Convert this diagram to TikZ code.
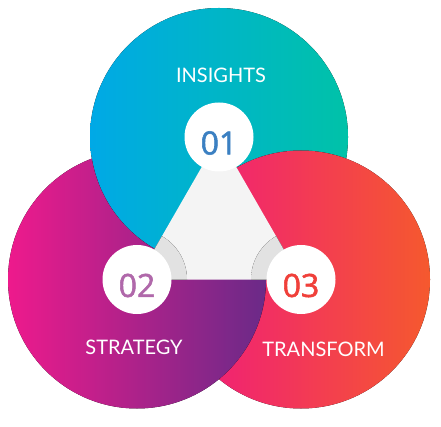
\documentclass[tikz,border=0pt]{standalone}
\usepackage{fontspec}
\setmainfont{Lato}
\newfontfamily\numfont[FakeBold=1.8]{Open Sans}
\usetikzlibrary{calc}
\definecolor{tealL}{HTML}{00A9E6}
\definecolor{tealR}{HTML}{00C2A8}
\definecolor{purL}{HTML}{EE1A8C}
\definecolor{purR}{HTML}{6A2A88}
\definecolor{redL}{HTML}{F0187F}
\definecolor{redR}{HTML}{F5592E}
\definecolor{tri}{HTML}{F4F4F4}
\definecolor{shadowc}{HTML}{E2E2E2}
\definecolor{shadowm}{HTML}{ECECEC}
\definecolor{numA}{HTML}{3B80C2}
\definecolor{numB}{HTML}{B068AA}
\definecolor{numC}{HTML}{F0403A}
\pgfdeclareradialshading{cshadow}{\pgfpoint{0bp}{0bp}}{color(0bp)=(shadowc);color(34bp)=(shadowc);color(38bp)=(shadowm);color(46bp)=(tri);color(50bp)=(tri)}
\tikzset{
  numcirc/.style={circle, fill=white, minimum size=69pt, inner sep=0pt},
  numtext/.style={font=\numfont\fontsize{32}{32}\selectfont, inner sep=0pt},
  lbl/.style={font=\fontsize{20}{20}\selectfont, text=white, inner sep=0pt}
}
\begin{document}
\begin{tikzpicture}[x=1pt,y=-1pt]
\useasboundingbox (0,0) rectangle (441,427);
\coordinate (A) at (219,137);
\coordinate (B) at (137,279.5);
\coordinate (C) at (301,279.5);
% big circles
\fill[left color=tealL,right color=tealR] (A) circle (129);
\fill[left color=redL,right color=redR] (C) circle (129);
% purple: over red, but under teal
\begin{scope}[even odd rule]
  \clip (-100,-100) rectangle (600,600) (A) circle (129);
  \fill[left color=purL,right color=purR] (B) circle (129);
\end{scope}
% central triangle
\fill[tri] (A) -- (B) -- (C) -- cycle;
\begin{scope}
  \clip (A) -- (B) -- (C) -- cycle;
  \fill[shading=cshadow] (B) circle (50);
  \fill[shading=cshadow] (C) circle (50);
\end{scope}
% number circles
\node[numcirc] (n1) at (A) {};
\node[numcirc] (n2) at (B) {};
\node[numcirc] (n3) at (C) {};
\node[numtext, text=numA] (t1) at ($(A)+(0,6)$) {01};
\node[numtext, text=numB] (t2) at ($(B)+(0,6)$) {02};
\node[numtext, text=numC] (t3) at ($(C)+(0,6)$) {03};
% labels
\node[lbl] (l1) at (221,75.5) {INSIGHTS};
\node[lbl] (l2) at (134,347) {STRATEGY};
\node[lbl] (l3) at (323.5,349) {TRANSFORM};
\end{tikzpicture}
\end{document}
